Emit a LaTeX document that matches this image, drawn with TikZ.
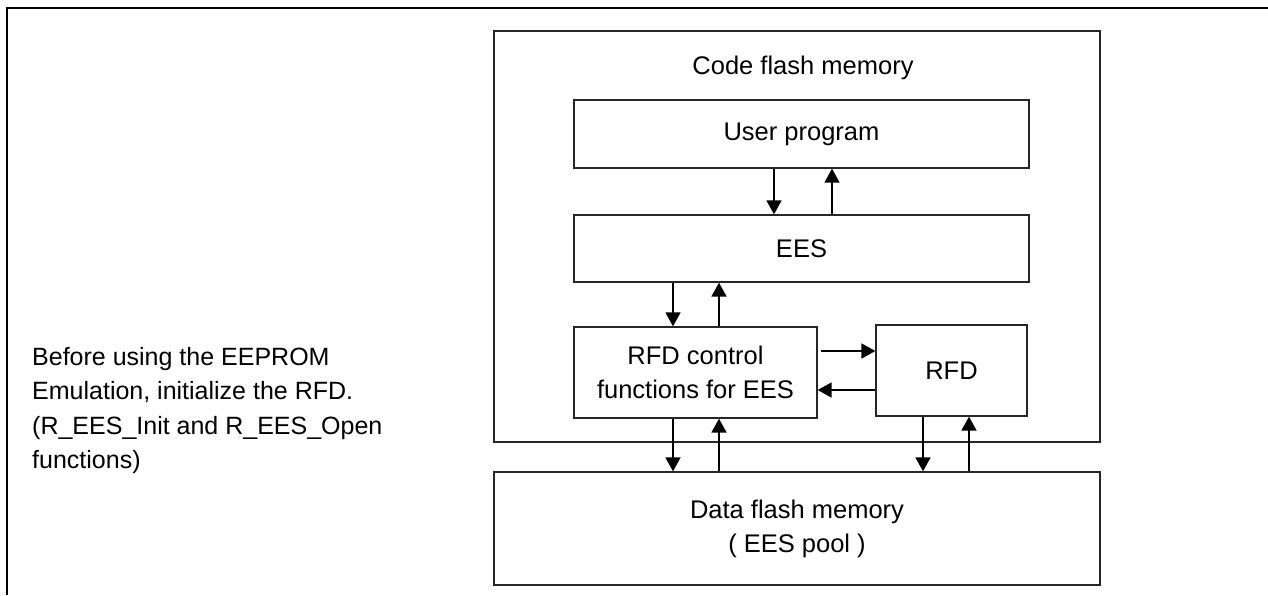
\documentclass[tikz,border=0pt]{standalone}
\usepackage{fontspec}
\setmainfont{Liberation Sans}
\usetikzlibrary{arrows.meta}
\begin{document}
\begin{tikzpicture}[x=1pt,y=-1pt,
  box/.style={draw=black!85,line width=1.3pt,rectangle,inner sep=0pt,align=center,
    font=\fontsize{25.5}{34}\selectfont},
  lbl/.style={inner sep=0pt,font=\fontsize{25.5}{34}\selectfont},
  note/.style={inner sep=0pt,align=left,font=\fontsize{25}{34.5}\selectfont},
  arr/.style={line width=1.7pt,-{Triangle[width=15pt,length=14pt]}}]
\useasboundingbox (0,0) rectangle (1268,595);
% outer frame
\draw[line width=2.6pt] (7,595) -- (7,8) -- (1268,8);
% boxes
\node[box,minimum width=606pt,minimum height=411pt] (code) at (797,236.5) {};
\node[lbl] (codelabel) at (803,68) {Code flash memory};
\node[box,minimum width=455pt,minimum height=68pt] (user) at (801.5,134) {User program};
\node[box,minimum width=455pt,minimum height=67pt] (ees) at (801.5,248.5) {EES};
\node[box,minimum width=243pt,minimum height=91pt] (ctrl) at (695.5,372.5) {RFD control\\functions for EES};
\node[box,minimum width=151pt,minimum height=91pt] (rfd) at (951.5,370.5) {RFD};
\node[box,minimum width=606pt,minimum height=113pt] (data) at (797,528.5) {Data flash memory\\( EES pool )};
\node[note,anchor=west] (notetext) at (32,410.5) {Before using the EEPROM\\Emulation, initialize the RFD.\\(R\_EES\_Init and R\_EES\_Open\\functions)};
% arrows user <-> ees
\draw[arr] ([xshift=-27.5pt]user.south) -- ([xshift=-27.5pt]user.south |- ees.north);
\draw[arr] ([xshift=30.5pt]ees.north) -- ([xshift=30.5pt]ees.north |- user.south);
% ees <-> ctrl
\draw[arr] ([xshift=-22.5pt]ees.south -| ctrl.north) -- ([xshift=-22.5pt]ctrl.north);
\draw[arr] ([xshift=23.5pt]ctrl.north) -- ([xshift=23.5pt]ees.south -| ctrl.north);
% ctrl <-> rfd
\draw[arr] ([xshift=3pt,yshift=21.5pt]ctrl.east) -- ([yshift=19.5pt]rfd.west);
\draw[arr] ([yshift=-19.5pt]rfd.west) -- ([yshift=-17.5pt]ctrl.east);
% ctrl <-> data
\draw[arr] ([xshift=-22.5pt]ctrl.south) -- ([xshift=-22.5pt]ctrl.south |- data.north);
\draw[arr] ([xshift=23.5pt]ctrl.south |- data.north) -- ([xshift=23.5pt]ctrl.south);
% rfd <-> data
\draw[arr] ([xshift=-28.5pt]rfd.south) -- ([xshift=-28.5pt]rfd.south |- data.north);
\draw[arr] ([xshift=17.5pt]rfd.south |- data.north) -- ([xshift=17.5pt]rfd.south);
\end{tikzpicture}
\end{document}
